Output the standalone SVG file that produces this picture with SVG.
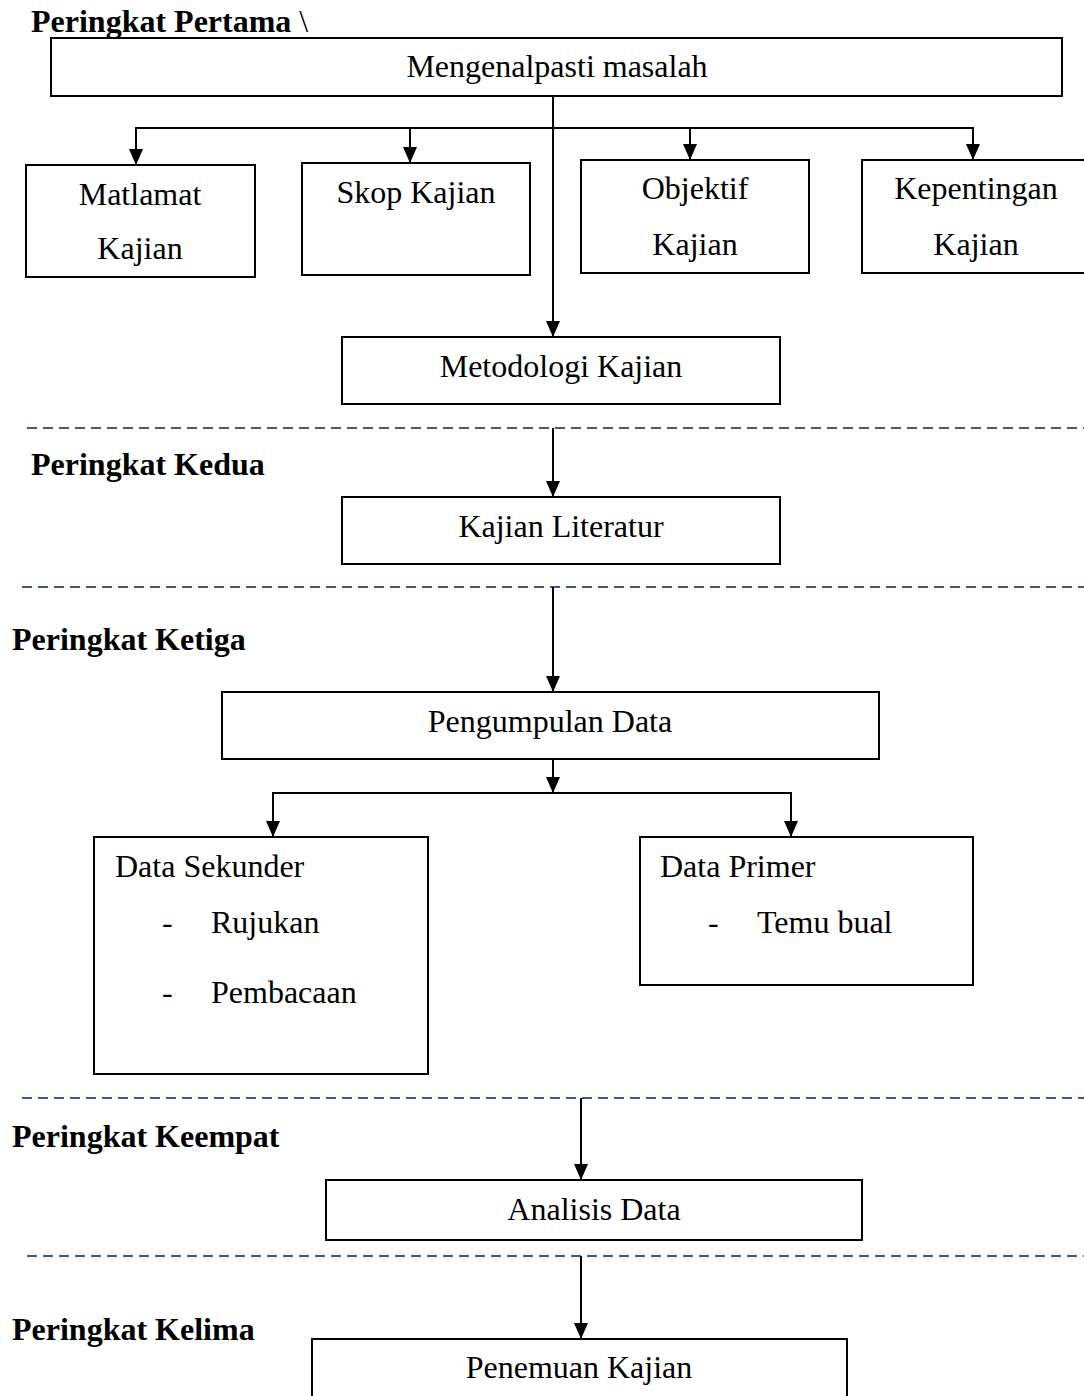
<svg xmlns="http://www.w3.org/2000/svg" width="1084" height="1396" viewBox="0 0 1084 1396">
<defs>
<marker id="ah" markerUnits="userSpaceOnUse" markerWidth="16" markerHeight="14" viewBox="0 0 16 14" refX="16" refY="7" orient="auto">
<path d="M0,0 L16,7 L0,14 Z" fill="#000"/>
</marker>
<style>
.box{fill:#fff;stroke:#000;stroke-width:2}
.t{font-family:"Liberation Serif","Times New Roman",serif;font-size:32px;fill:#000}
.c{text-anchor:middle}
.h{font-family:"Liberation Serif","Times New Roman",serif;font-size:32px;font-weight:bold;fill:#000}
.ln{stroke:#000;stroke-width:2;fill:none}
.ar{stroke:#000;stroke-width:2;fill:none;marker-end:url(#ah)}
.dash{stroke:#3A5A8C;stroke-width:2;stroke-dasharray:10 6;fill:none}
</style>
</defs>
<rect width="1084" height="1396" fill="#fff"/>

<g id="labels">
<text class="h" x="31" y="32">Peringkat Pertama <tspan font-weight="normal">\</tspan></text>
<text class="h" x="31" y="475">Peringkat Kedua</text>
<text class="h" x="12" y="650">Peringkat Ketiga</text>
<text class="h" x="12" y="1147">Peringkat Keempat</text>
<text class="h" x="12" y="1340">Peringkat Kelima</text>
</g>

<g id="separators">
<line class="dash" x1="27" y1="428" x2="1084" y2="428"/>
<line class="dash" x1="22" y1="587" x2="1084" y2="587"/>
<line class="dash" x1="22" y1="1098" x2="1084" y2="1098"/>
<line class="dash" x1="27" y1="1256" x2="1084" y2="1256"/>
</g>

<g id="connectors">
<line class="ar" x1="553" y1="96" x2="553" y2="337"/>
<polyline class="ln" points="136,145 136,128 973,128 973,145"/>
<line class="ar" x1="136" y1="128" x2="136" y2="165"/>
<line class="ar" x1="410" y1="128" x2="410" y2="163"/>
<line class="ar" x1="690" y1="128" x2="690" y2="160"/>
<line class="ar" x1="973" y1="128" x2="973" y2="160"/>
<line class="ar" x1="553" y1="428" x2="553" y2="497"/>
<line class="ar" x1="553" y1="587" x2="553" y2="692"/>
<line class="ar" x1="553" y1="759" x2="553" y2="793"/>
<polyline class="ln" points="273,810 273,793 791,793 791,810"/>
<line class="ar" x1="273" y1="793" x2="273" y2="837"/>
<line class="ar" x1="791" y1="793" x2="791" y2="837"/>
<line class="ar" x1="581" y1="1098" x2="581" y2="1180"/>
<line class="ar" x1="581" y1="1256" x2="581" y2="1339"/>
</g>

<g id="n-masalah">
<rect class="box" x="51" y="38" width="1011" height="58"/>
<text class="t c" x="557" y="77">Mengenalpasti masalah</text>
</g>
<g id="n-matlamat">
<rect class="box" x="26" y="165" width="229" height="112"/>
<text class="t c" x="140" y="205">Matlamat</text>
<text class="t c" x="140" y="259">Kajian</text>
</g>
<g id="n-skop">
<rect class="box" x="302" y="163" width="228" height="112"/>
<text class="t c" x="416" y="203">Skop Kajian</text>
</g>
<g id="n-objektif">
<rect class="box" x="581" y="160" width="228" height="113"/>
<text class="t c" x="695" y="199">Objektif</text>
<text class="t c" x="695" y="255">Kajian</text>
</g>
<g id="n-kepentingan">
<rect class="box" x="862" y="160" width="240" height="113"/>
<text class="t c" x="976" y="199">Kepentingan</text>
<text class="t c" x="976" y="255">Kajian</text>
</g>
<g id="n-metodologi">
<rect class="box" x="342" y="337" width="438" height="67"/>
<text class="t c" x="561" y="377">Metodologi Kajian</text>
</g>
<g id="n-literatur">
<rect class="box" x="342" y="497" width="438" height="67"/>
<text class="t c" x="561" y="537">Kajian Literatur</text>
</g>
<g id="n-pengumpulan">
<rect class="box" x="222" y="692" width="657" height="67"/>
<text class="t c" x="550" y="732">Pengumpulan Data</text>
</g>
<g id="n-sekunder">
<rect class="box" x="94" y="837" width="334" height="237"/>
<text class="t" x="115" y="877">Data Sekunder</text>
<text class="t" x="162" y="933">-</text>
<text class="t" x="211" y="933">Rujukan</text>
<text class="t" x="162" y="1003">-</text>
<text class="t" x="211" y="1003">Pembacaan</text>
</g>
<g id="n-primer">
<rect class="box" x="640" y="837" width="333" height="148"/>
<text class="t" x="660" y="877">Data Primer</text>
<text class="t" x="708" y="933">-</text>
<text class="t" x="757" y="933">Temu bual</text>
</g>
<g id="n-analisis">
<rect class="box" x="326" y="1180" width="536" height="60"/>
<text class="t c" x="594" y="1220">Analisis Data</text>
</g>
<g id="n-penemuan">
<rect class="box" x="312" y="1339" width="535" height="70"/>
<text class="t c" x="579" y="1378">Penemuan Kajian</text>
</g>
</svg>
